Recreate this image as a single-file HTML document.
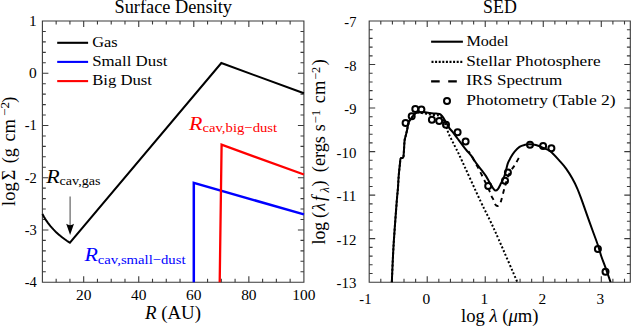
<!DOCTYPE html>
<html><head><meta charset="utf-8"><style>
html,body{margin:0;padding:0;background:#fff;overflow:hidden}
svg{display:block}
text{font-family:"Liberation Serif",serif}
</style></head><body>
<svg width="631" height="327" viewBox="0 0 631 327">
<rect width="631" height="327" fill="#fff"/>
<path d="M42.4,21H303.9V282.2H42.4Z" fill="none" stroke="#3a3a3a" stroke-width="1.1"/>
<path d="M56.16,282.2v-3.4M56.16,21v3.4M69.93,282.2v-3.4M69.93,21v3.4M83.69,282.2v-6M83.69,21v6M97.45,282.2v-3.4M97.45,21v3.4M111.22,282.2v-3.4M111.22,21v3.4M124.98,282.2v-3.4M124.98,21v3.4M138.74,282.2v-6M138.74,21v6M152.51,282.2v-3.4M152.51,21v3.4M166.27,282.2v-3.4M166.27,21v3.4M180.03,282.2v-3.4M180.03,21v3.4M193.79,282.2v-6M193.79,21v6M207.56,282.2v-3.4M207.56,21v3.4M221.32,282.2v-3.4M221.32,21v3.4M235.08,282.2v-3.4M235.08,21v3.4M248.85,282.2v-6M248.85,21v6M262.61,282.2v-3.4M262.61,21v3.4M276.37,282.2v-3.4M276.37,21v3.4M290.14,282.2v-3.4M290.14,21v3.4M42.4,31.45h3.4M303.9,31.45h-3.4M42.4,41.9h3.4M303.9,41.9h-3.4M42.4,52.34h3.4M303.9,52.34h-3.4M42.4,62.79h3.4M303.9,62.79h-3.4M42.4,73.24h6M303.9,73.24h-6M42.4,83.69h3.4M303.9,83.69h-3.4M42.4,94.14h3.4M303.9,94.14h-3.4M42.4,104.58h3.4M303.9,104.58h-3.4M42.4,115.03h3.4M303.9,115.03h-3.4M42.4,125.48h6M303.9,125.48h-6M42.4,135.93h3.4M303.9,135.93h-3.4M42.4,146.38h3.4M303.9,146.38h-3.4M42.4,156.82h3.4M303.9,156.82h-3.4M42.4,167.27h3.4M303.9,167.27h-3.4M42.4,177.72h6M303.9,177.72h-6M42.4,188.17h3.4M303.9,188.17h-3.4M42.4,198.62h3.4M303.9,198.62h-3.4M42.4,209.06h3.4M303.9,209.06h-3.4M42.4,219.51h3.4M303.9,219.51h-3.4M42.4,229.96h6M303.9,229.96h-6M42.4,240.41h3.4M303.9,240.41h-3.4M42.4,250.86h3.4M303.9,250.86h-3.4M42.4,261.3h3.4M303.9,261.3h-3.4M42.4,271.75h3.4M303.9,271.75h-3.4" fill="none" stroke="#3a3a3a" stroke-width="1.1"/>
<path d="M369.2,21H630.3V282.2H369.2Z" fill="none" stroke="#3a3a3a" stroke-width="1.1"/>
<path d="M380.8,282.2v-3.4M380.8,21v3.4M392.41,282.2v-3.4M392.41,21v3.4M404.01,282.2v-3.4M404.01,21v3.4M415.62,282.2v-3.4M415.62,21v3.4M427.22,282.2v-6M427.22,21v6M438.83,282.2v-3.4M438.83,21v3.4M450.43,282.2v-3.4M450.43,21v3.4M462.04,282.2v-3.4M462.04,21v3.4M473.64,282.2v-3.4M473.64,21v3.4M485.24,282.2v-6M485.24,21v6M496.85,282.2v-3.4M496.85,21v3.4M508.45,282.2v-3.4M508.45,21v3.4M520.06,282.2v-3.4M520.06,21v3.4M531.66,282.2v-3.4M531.66,21v3.4M543.27,282.2v-6M543.27,21v6M554.87,282.2v-3.4M554.87,21v3.4M566.48,282.2v-3.4M566.48,21v3.4M578.08,282.2v-3.4M578.08,21v3.4M589.68,282.2v-3.4M589.68,21v3.4M601.29,282.2v-6M601.29,21v6M612.89,282.2v-3.4M612.89,21v3.4M624.5,282.2v-3.4M624.5,21v3.4M369.2,29.71h3.4M630.3,29.71h-3.4M369.2,38.41h3.4M630.3,38.41h-3.4M369.2,47.12h3.4M630.3,47.12h-3.4M369.2,55.83h3.4M630.3,55.83h-3.4M369.2,64.53h6M630.3,64.53h-6M369.2,73.24h3.4M630.3,73.24h-3.4M369.2,81.95h3.4M630.3,81.95h-3.4M369.2,90.65h3.4M630.3,90.65h-3.4M369.2,99.36h3.4M630.3,99.36h-3.4M369.2,108.07h6M630.3,108.07h-6M369.2,116.77h3.4M630.3,116.77h-3.4M369.2,125.48h3.4M630.3,125.48h-3.4M369.2,134.19h3.4M630.3,134.19h-3.4M369.2,142.89h3.4M630.3,142.89h-3.4M369.2,151.6h6M630.3,151.6h-6M369.2,160.31h3.4M630.3,160.31h-3.4M369.2,169.01h3.4M630.3,169.01h-3.4M369.2,177.72h3.4M630.3,177.72h-3.4M369.2,186.43h3.4M630.3,186.43h-3.4M369.2,195.13h6M630.3,195.13h-6M369.2,203.84h3.4M630.3,203.84h-3.4M369.2,212.55h3.4M630.3,212.55h-3.4M369.2,221.25h3.4M630.3,221.25h-3.4M369.2,229.96h3.4M630.3,229.96h-3.4M369.2,238.67h6M630.3,238.67h-6M369.2,247.37h3.4M630.3,247.37h-3.4M369.2,256.08h3.4M630.3,256.08h-3.4M369.2,264.79h3.4M630.3,264.79h-3.4M369.2,273.49h3.4M630.3,273.49h-3.4" fill="none" stroke="#3a3a3a" stroke-width="1.1"/>
<path d="M42.4,214.1 L43.78,216.58 L45.15,218.85 L46.53,220.94 L47.91,222.87 L49.28,224.67 L50.66,226.36 L52.03,227.94 L53.41,229.43 L54.79,230.84 L56.16,232.18 L57.54,233.45 L58.92,234.67 L60.29,235.83 L61.67,236.94 L63.04,238 L64.42,239.03 L65.8,240.01 L67.17,240.96 L68.55,241.87 L69.93,242.76 L221.32,63 L303.9,93.3" fill="none" stroke="#000" stroke-width="2.0" stroke-linejoin="miter"/>
<path d="M193.8,282.2 L193.8,182.9 L303.9,214.4" fill="none" stroke="#0000ff" stroke-width="2.5" stroke-linejoin="miter"/>
<path d="M219.7,282.2 L221.6,144.7 L303.9,174.5" fill="none" stroke="#ff0000" stroke-width="2.3" stroke-linejoin="miter"/>
<defs><clipPath id="cr"><rect x="369.2" y="21.0" width="261.09999999999997" height="261.2"/></clipPath></defs>
<g clip-path="url(#cr)">
<path d="M391.8,282.5 C392.1,276.25 392.78,258.42 393.6,245 C394.42,231.58 395.98,211.38 396.7,202 C397.42,192.62 397.57,193.03 397.9,188.7 C398.23,184.37 398.37,180.07 398.7,176 C399.03,171.93 399.58,167.2 399.9,164.3 C400.22,161.4 400.15,159.67 400.6,158.6 C401.05,157.53 402.12,158.28 402.6,157.9 C403.08,157.52 403.25,157.95 403.5,156.3 C403.75,154.65 403.92,150.63 404.1,148 C404.28,145.37 404.33,142.53 404.6,140.5 C404.87,138.47 405.28,137.55 405.7,135.8 C406.12,134.05 406.6,132.25 407.1,130 C407.6,127.75 407.9,124.38 408.7,122.3 C409.5,120.22 410.83,118.97 411.9,117.5 C412.97,116.03 413.9,114.37 415.1,113.5 C416.3,112.63 418.12,112.42 419.1,112.3 C420.08,112.18 419.95,112.58 421,112.8 C422.05,113.02 423.9,113.3 425.4,113.6 C426.9,113.9 428.23,114.33 430,114.6 C431.77,114.87 434.33,114.97 436,115.2 C437.67,115.43 438.75,115.12 440,116 C441.25,116.88 442.42,118.58 443.5,120.5 C444.58,122.42 445.62,125.23 446.5,127.5 C447.38,129.77 447.82,131.8 448.8,134.1 C449.78,136.4 451.2,138.9 452.4,141.3 C453.6,143.7 454.7,145.88 456,148.5 C457.3,151.12 456.07,148.12 460.2,157 C464.33,165.88 475.8,191.17 480.8,201.8 C485.8,212.43 487.22,214.53 490.2,220.8 C493.18,227.07 494.15,229.12 498.7,239.4 C503.25,249.68 514.37,275.32 517.5,282.5" fill="none" stroke="#000" stroke-width="2" stroke-dasharray="2 2"/>
<path d="M468.5,151.3 C469,152.05 470.25,153.68 471.5,155.8 C472.75,157.92 474.83,161.88 476,164 C477.17,166.12 477.63,166.87 478.5,168.5 C479.37,170.13 480.22,171.82 481.2,173.8 C482.18,175.78 483.07,177.65 484.4,180.4 C485.73,183.15 488,187.65 489.2,190.3 C490.4,192.95 490.87,194.68 491.6,196.3 C492.33,197.92 492.98,198.63 493.6,200 C494.22,201.37 494.65,203.5 495.3,204.5 C495.95,205.5 496.77,206 497.5,206 C498.23,206 499.03,205.58 499.7,204.5 C500.37,203.42 500.8,201.87 501.5,199.5 C502.2,197.13 503.23,192.77 503.9,190.3 C504.57,187.83 504.9,186.75 505.5,184.7 C506.1,182.65 506.67,180.2 507.5,178 C508.33,175.8 509.32,173.6 510.5,171.5 C511.68,169.4 513.58,166.98 514.6,165.4 C515.62,163.82 515.87,163.3 516.6,162 C517.33,160.7 518.6,158.33 519,157.6" fill="none" stroke="#000" stroke-width="1.9" stroke-dasharray="4.5 4.2" stroke-dashoffset="2"/>
<path d="M391.8,282.5 C392.1,276.25 392.78,258.42 393.6,245 C394.42,231.58 395.98,211.38 396.7,202 C397.42,192.62 397.57,193.03 397.9,188.7 C398.23,184.37 398.37,180.07 398.7,176 C399.03,171.93 399.58,167.2 399.9,164.3 C400.22,161.4 400.15,159.67 400.6,158.6 C401.05,157.53 402.12,158.28 402.6,157.9 C403.08,157.52 403.25,157.95 403.5,156.3 C403.75,154.65 403.92,150.63 404.1,148 C404.28,145.37 404.33,142.53 404.6,140.5 C404.87,138.47 405.28,137.55 405.7,135.8 C406.12,134.05 406.6,132.25 407.1,130 C407.6,127.75 407.9,124.38 408.7,122.3 C409.5,120.22 410.83,118.97 411.9,117.5 C412.97,116.03 413.9,114.37 415.1,113.5 C416.3,112.63 417.38,112.5 419.1,112.3 C420.82,112.1 423.58,112.18 425.4,112.3 C427.22,112.42 428.23,112.78 430,113 C431.77,113.22 434.4,113.43 436,113.6 C437.6,113.77 438.6,113.6 439.6,114 C440.6,114.4 441.15,115.02 442,116 C442.85,116.98 443.57,118 444.7,119.9 C445.83,121.8 447.45,125.35 448.8,127.4 C450.15,129.45 451.35,130.35 452.8,132.2 C454.25,134.05 455.92,136.38 457.5,138.5 C459.08,140.62 460.7,142.82 462.3,144.9 C463.9,146.98 465.62,149.22 467.1,151 C468.58,152.78 469.6,153.45 471.2,155.6 C472.8,157.75 474.9,161.4 476.7,163.9 C478.5,166.4 480.45,168.57 482,170.6 C483.55,172.63 484.82,174.25 486,176.1 C487.18,177.95 488.12,180 489.1,181.7 C490.08,183.4 491.15,185.1 491.9,186.3 C492.65,187.5 493,188.18 493.6,188.9 C494.2,189.62 494.78,190.57 495.5,190.6 C496.22,190.63 497.1,190.08 497.9,189.1 C498.7,188.12 499.37,186.48 500.3,184.7 C501.23,182.92 502.63,180.43 503.5,178.4 C504.37,176.37 504.78,175 505.5,172.5 C506.22,170 506.93,165.88 507.8,163.4 C508.67,160.92 509.57,159.55 510.7,157.6 C511.83,155.65 513.13,153.5 514.6,151.7 C516.07,149.9 517.78,147.95 519.5,146.8 C521.22,145.65 523.18,145.23 524.9,144.8 C526.62,144.37 527.97,144.17 529.8,144.2 C531.63,144.23 533.67,144.4 535.9,145 C538.13,145.6 540.75,146.72 543.2,147.8 C545.65,148.88 547.8,149.25 550.6,151.5 C553.4,153.75 557.42,158.45 560,161.3 C562.58,164.15 564.07,165.77 566.1,168.6 C568.13,171.43 570.37,175.05 572.2,178.3 C574.03,181.55 575.57,184.63 577.1,188.1 C578.63,191.57 579.92,195.1 581.4,199.1 C582.88,203.1 584.17,206.95 586,212.1 C587.83,217.25 590.42,224.5 592.4,230 C594.38,235.5 596.43,240.77 597.9,245.1 C599.37,249.43 599.87,252.07 601.2,256 C602.53,259.93 604.32,264.28 605.9,268.7 C607.48,273.12 609.9,280.2 610.7,282.5" fill="none" stroke="#000" stroke-width="2"/>
</g>
<circle cx="405.6" cy="123.1" r="3" fill="none" stroke="#000" stroke-width="2"/>
<circle cx="411.7" cy="116.2" r="3" fill="none" stroke="#000" stroke-width="2"/>
<circle cx="415.3" cy="109" r="3" fill="none" stroke="#000" stroke-width="2"/>
<circle cx="421.4" cy="109.6" r="3" fill="none" stroke="#000" stroke-width="2"/>
<circle cx="431.9" cy="119.7" r="3" fill="none" stroke="#000" stroke-width="2"/>
<circle cx="439.2" cy="120.9" r="3" fill="none" stroke="#000" stroke-width="2"/>
<circle cx="446" cy="124.7" r="3" fill="none" stroke="#000" stroke-width="2"/>
<circle cx="457.6" cy="132.2" r="3" fill="none" stroke="#000" stroke-width="2"/>
<circle cx="465.6" cy="141.6" r="3" fill="none" stroke="#000" stroke-width="2"/>
<circle cx="488.2" cy="186" r="3" fill="none" stroke="#000" stroke-width="2"/>
<circle cx="505" cy="180.7" r="3" fill="none" stroke="#000" stroke-width="2"/>
<circle cx="507.9" cy="172.4" r="3" fill="none" stroke="#000" stroke-width="2"/>
<circle cx="530" cy="144.7" r="3" fill="none" stroke="#000" stroke-width="2"/>
<circle cx="543.1" cy="146.1" r="3" fill="none" stroke="#000" stroke-width="2"/>
<circle cx="551.4" cy="148.3" r="3" fill="none" stroke="#000" stroke-width="2"/>
<circle cx="597.9" cy="249.1" r="3" fill="none" stroke="#000" stroke-width="2"/>
<circle cx="605.5" cy="271.8" r="3" fill="none" stroke="#000" stroke-width="2"/>
<path d="M70.1,196.5 V228" stroke="#555" stroke-width="1.1"/>
<path d="M70.1,235 L66.2,223.8 Q70.1,226.5 74,223.8 Z" fill="#000"/>
<path d="M57.2,42.8H88.1" stroke="#000" stroke-width="2.1"/>
<path d="M57.2,61.9H88.1" stroke="#0000ff" stroke-width="2.1"/>
<path d="M57.2,81.1H88.1" stroke="#ff0000" stroke-width="2.1"/>
<path d="M431.1,41.7H462.9" stroke="#000" stroke-width="2.1"/>
<path d="M431.5,61.8H463" stroke="#000" stroke-width="2.3" stroke-dasharray="2 1.6"/>
<path d="M431.1,81.3H439.7M448.2,81.3H456.8" stroke="#000" stroke-width="2.2"/>
<circle cx="447" cy="100.9" r="3" fill="none" stroke="#000" stroke-width="2"/>
<text x="114.5" y="12.8" font-size="18" textLength="117.5" lengthAdjust="spacingAndGlyphs" fill="#000">Surface Density</text>
<text x="483.1" y="12.8" font-size="18" textLength="33.7" lengthAdjust="spacingAndGlyphs" fill="#000">SED</text>
<text x="36.8" y="25.9" font-size="14.5" text-anchor="end" textLength="7.7" lengthAdjust="spacingAndGlyphs" fill="#000">1</text>
<text x="36.8" y="78.14" font-size="14.5" text-anchor="end" textLength="7.7" lengthAdjust="spacingAndGlyphs" fill="#000">0</text>
<text x="36.8" y="130.38" font-size="14.5" text-anchor="end" textLength="12.1" lengthAdjust="spacingAndGlyphs" fill="#000">-1</text>
<text x="36.8" y="182.62" font-size="14.5" text-anchor="end" textLength="12.1" lengthAdjust="spacingAndGlyphs" fill="#000">-2</text>
<text x="36.8" y="234.86" font-size="14.5" text-anchor="end" textLength="12.1" lengthAdjust="spacingAndGlyphs" fill="#000">-3</text>
<text x="36.8" y="287.1" font-size="14.5" text-anchor="end" textLength="12.1" lengthAdjust="spacingAndGlyphs" fill="#000">-4</text>
<text x="356.4" y="27.2" font-size="14.5" text-anchor="end" textLength="12.1" lengthAdjust="spacingAndGlyphs" fill="#000">-7</text>
<text x="356.4" y="70.73" font-size="14.5" text-anchor="end" textLength="12.1" lengthAdjust="spacingAndGlyphs" fill="#000">-8</text>
<text x="356.4" y="114.27" font-size="14.5" text-anchor="end" textLength="12.1" lengthAdjust="spacingAndGlyphs" fill="#000">-9</text>
<text x="356.4" y="157.8" font-size="14.5" text-anchor="end" textLength="19.8" lengthAdjust="spacingAndGlyphs" fill="#000">-10</text>
<text x="356.4" y="201.33" font-size="14.5" text-anchor="end" textLength="19.8" lengthAdjust="spacingAndGlyphs" fill="#000">-11</text>
<text x="356.4" y="244.87" font-size="14.5" text-anchor="end" textLength="19.8" lengthAdjust="spacingAndGlyphs" fill="#000">-12</text>
<text x="356.4" y="288.4" font-size="14.5" text-anchor="end" textLength="19.8" lengthAdjust="spacingAndGlyphs" fill="#000">-13</text>
<text x="83.69" y="300.3" font-size="14.5" text-anchor="middle" textLength="15.4" lengthAdjust="spacingAndGlyphs" fill="#000">20</text>
<text x="138.74" y="300.3" font-size="14.5" text-anchor="middle" textLength="15.4" lengthAdjust="spacingAndGlyphs" fill="#000">40</text>
<text x="193.79" y="300.3" font-size="14.5" text-anchor="middle" textLength="15.4" lengthAdjust="spacingAndGlyphs" fill="#000">60</text>
<text x="248.85" y="300.3" font-size="14.5" text-anchor="middle" textLength="15.4" lengthAdjust="spacingAndGlyphs" fill="#000">80</text>
<text x="303.9" y="300.3" font-size="14.5" text-anchor="middle" textLength="23.1" lengthAdjust="spacingAndGlyphs" fill="#000">100</text>
<text x="365.4" y="303.9" font-size="14.5" text-anchor="middle" textLength="12.1" lengthAdjust="spacingAndGlyphs" fill="#000">-1</text>
<text x="426.42" y="303.9" font-size="14.5" text-anchor="middle" textLength="7.7" lengthAdjust="spacingAndGlyphs" fill="#000">0</text>
<text x="484.44" y="303.9" font-size="14.5" text-anchor="middle" textLength="7.7" lengthAdjust="spacingAndGlyphs" fill="#000">1</text>
<text x="542.47" y="303.9" font-size="14.5" text-anchor="middle" textLength="7.7" lengthAdjust="spacingAndGlyphs" fill="#000">2</text>
<text x="600.49" y="303.9" font-size="14.5" text-anchor="middle" textLength="7.7" lengthAdjust="spacingAndGlyphs" fill="#000">3</text>
<text x="145" y="319.4" font-size="18" textLength="56" lengthAdjust="spacingAndGlyphs"><tspan font-style="italic">R</tspan> (AU)</text>
<text x="461" y="322.4" font-size="18" textLength="77.5" lengthAdjust="spacingAndGlyphs">log <tspan font-style="italic">λ</tspan> (<tspan font-style="italic">μ</tspan>m)</text>
<g transform="translate(14.7,205.9) rotate(-90)"><text x="0" y="0" font-size="18" textLength="23.7" lengthAdjust="spacingAndGlyphs">log</text><text x="31" y="0" font-size="18" text-anchor="middle">Σ</text><text x="45.6" y="0" font-size="18" text-anchor="middle">(</text><text x="53.2" y="0" font-size="18" text-anchor="middle">g</text><text x="64.3" y="0" font-size="18" textLength="22.4" lengthAdjust="spacingAndGlyphs">cm</text><text x="97" y="-5.5" font-size="12.5" text-anchor="middle" textLength="14" lengthAdjust="spacingAndGlyphs">−2</text><text x="106.2" y="0" font-size="18" text-anchor="middle">)</text></g>
<g transform="translate(325.4,244.5) rotate(-90)"><text x="0" y="0" font-size="18" textLength="22.5" lengthAdjust="spacingAndGlyphs">log</text><text x="29.6" y="0" font-size="18" text-anchor="middle">(</text><text x="37.6" y="0" font-size="18" text-anchor="middle" font-style="italic">λ</text><text x="46" y="0" font-size="18" text-anchor="middle" font-style="italic">f</text><text x="54.8" y="3.2" font-size="12.5" text-anchor="middle" font-style="italic">λ</text><text x="60.9" y="0" font-size="18" text-anchor="middle">)</text><text x="72.3" y="0" font-size="18" textLength="36.2" lengthAdjust="spacingAndGlyphs">(ergs</text><text x="116.8" y="0" font-size="18" text-anchor="middle">s</text><text x="127.8" y="-5.6" font-size="12.5" text-anchor="middle" textLength="13.8" lengthAdjust="spacingAndGlyphs">−1</text><text x="141.3" y="0" font-size="18" textLength="22.4" lengthAdjust="spacingAndGlyphs">cm</text><text x="171.2" y="-5.6" font-size="12.5" text-anchor="middle" textLength="13" lengthAdjust="spacingAndGlyphs">−2</text><text x="182.2" y="0" font-size="18" text-anchor="middle">)</text></g>
<text x="92.2" y="46.5" font-size="15" textLength="25.4" lengthAdjust="spacingAndGlyphs" fill="#000">Gas</text>
<text x="92.2" y="65.7" font-size="15" textLength="75.2" lengthAdjust="spacingAndGlyphs" fill="#000">Small Dust</text>
<text x="92.2" y="84.9" font-size="15" textLength="59.8" lengthAdjust="spacingAndGlyphs" fill="#000">Big Dust</text>
<text x="466.4" y="46.1" font-size="15" textLength="42.2" lengthAdjust="spacingAndGlyphs" fill="#000">Model</text>
<text x="466.2" y="65.8" font-size="15" textLength="134.4" lengthAdjust="spacingAndGlyphs" fill="#000">Stellar Photosphere</text>
<text x="466.2" y="85.4" font-size="15" textLength="96" lengthAdjust="spacingAndGlyphs" fill="#000">IRS Spectrum</text>
<text x="466.2" y="104.7" font-size="15" textLength="149.5" lengthAdjust="spacingAndGlyphs" fill="#000">Photometry (Table 2)</text>
<text x="46.2" y="182.6" font-size="18.5" textLength="13.4" lengthAdjust="spacingAndGlyphs" fill="#000" font-style="italic">R</text>
<text x="59.6" y="185.2" font-size="13.5" textLength="41" lengthAdjust="spacingAndGlyphs" fill="#000">cav,gas</text>
<text x="188.9" y="130.3" font-size="18.5" textLength="13.4" lengthAdjust="spacingAndGlyphs" fill="#ff0000" font-style="italic">R</text>
<text x="202.4" y="132.2" font-size="13.5" textLength="74.8" lengthAdjust="spacingAndGlyphs" fill="#ff0000">cav,big−dust</text>
<text x="84.4" y="260.6" font-size="18.5" textLength="13.4" lengthAdjust="spacingAndGlyphs" fill="#0000ff" font-style="italic">R</text>
<text x="97.8" y="263.5" font-size="13.5" textLength="87.7" lengthAdjust="spacingAndGlyphs" fill="#0000ff">cav,small−dust</text>
</svg>
</body></html>
